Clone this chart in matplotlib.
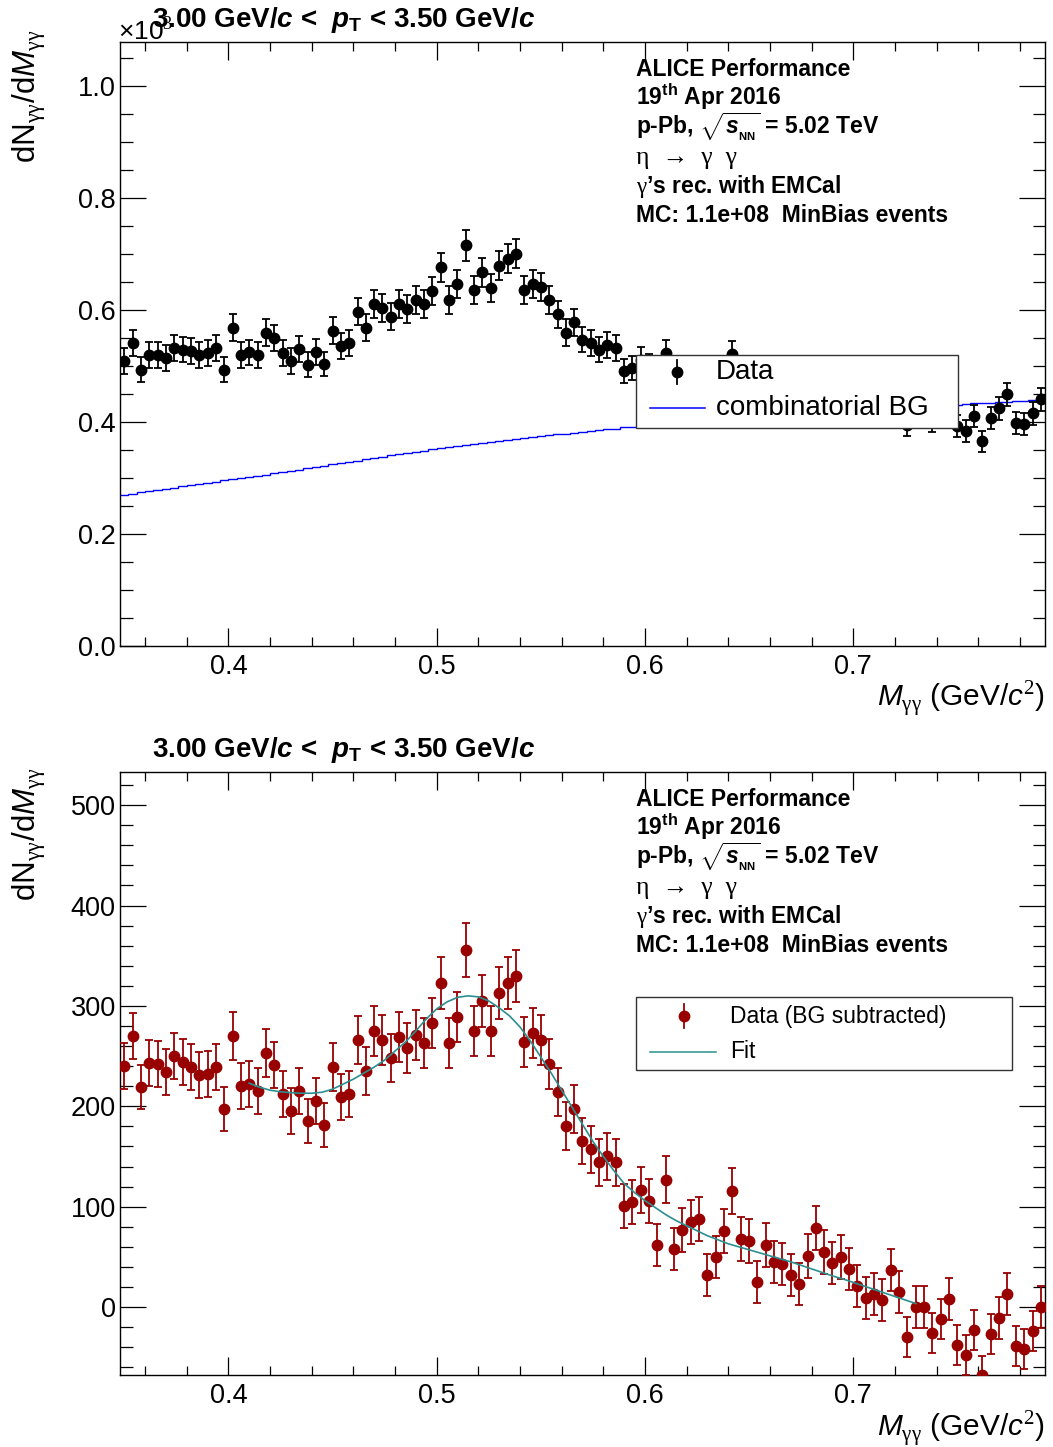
import numpy as np
import matplotlib
matplotlib.use("Agg")
import matplotlib.pyplot as plt
from matplotlib.lines import Line2D
from matplotlib.patches import Rectangle
from matplotlib.ticker import MultipleLocator, FormatStrFormatter

plt.rcParams['font.family'] = ['Liberation Sans', 'DejaVu Sans']
plt.rcParams['mathtext.fontset'] = 'custom'
# upright greek (symbol font look) comes from the serif face
plt.rcParams['mathtext.rm'] = 'Liberation Serif'
plt.rcParams['mathtext.sf'] = 'Liberation Sans'
plt.rcParams['mathtext.it'] = 'Liberation Sans:italic'
plt.rcParams['mathtext.bf'] = 'Liberation Sans:bold'
plt.rcParams['mathtext.bfit'] = 'Liberation Sans:bold:italic'

# invariant mass bin centres (GeV/c^2), 4 MeV bins
mass = [0.350, 0.354, 0.358, 0.362, 0.366, 0.370, 0.374, 0.378, 0.382, 0.386,
        0.390, 0.394, 0.398, 0.402, 0.406, 0.410, 0.414, 0.418, 0.422, 0.426,
        0.430, 0.434, 0.438, 0.442, 0.446, 0.450, 0.454, 0.458, 0.462, 0.466,
        0.470, 0.474, 0.478, 0.482, 0.486, 0.490, 0.494, 0.498, 0.502, 0.506,
        0.510, 0.514, 0.518, 0.522, 0.526, 0.530, 0.534, 0.538, 0.542, 0.546,
        0.550, 0.554, 0.558, 0.562, 0.566, 0.570, 0.574, 0.578, 0.582, 0.586,
        0.590, 0.594, 0.598, 0.602, 0.606, 0.610, 0.614, 0.618, 0.622, 0.626,
        0.630, 0.634, 0.638, 0.642, 0.646, 0.650, 0.654, 0.658, 0.662, 0.666,
        0.670, 0.674, 0.678, 0.682, 0.686, 0.690, 0.694, 0.698, 0.702, 0.706,
        0.710, 0.714, 0.718, 0.722, 0.726, 0.730, 0.734, 0.738, 0.742, 0.746,
        0.750, 0.754, 0.758, 0.762, 0.766, 0.770, 0.774, 0.778, 0.782, 0.786,
        0.790]
bin_width = 0.004

# same-event pair counts per bin
raw_counts = [509, 541, 493, 519, 520, 514, 532, 529, 526, 520,
              523, 532, 493, 568, 520, 524, 519, 559, 550, 523,
              508, 530, 502, 525, 503, 563, 535, 541, 597, 568,
              610, 603, 588, 611, 602, 617, 611, 634, 676, 618,
              646, 715, 635, 667, 639, 679, 691, 700, 635, 646,
              641, 618, 592, 559, 578, 547, 541, 529, 537, 532,
              491, 496, 510, 500, 457, 523, 455, 475, 485, 489,
              434, 453, 480, 521, 474, 474, 434, 472, 456, 455,
              445, 436, 465, 494, 471, 461, 468, 457, 441, 430,
              435, 430, 461, 439, 395, 426, 427, 402, 417, 438,
              393, 384, 410, 365, 407, 424, 449, 398, 396, 415,
              440]

# scaled mixed-event (combinatorial) background
bg_counts = [269, 271, 274, 276, 278, 280, 282, 285, 287, 289,
             291, 293, 296, 298, 300, 302, 304, 306, 309, 311,
             313, 315, 317, 320, 322, 324, 326, 329, 331, 333,
             335, 337, 340, 342, 344, 346, 348, 351, 353, 355,
             357, 359, 360, 362, 364, 366, 368, 370, 371, 373,
             375, 376, 378, 379, 381, 382, 384, 385, 387, 388,
             390, 391, 393, 394, 395, 396, 397, 398, 400, 401,
             402, 403, 404, 405, 406, 408, 409, 410, 411, 412,
             413, 413, 414, 415, 416, 417, 418, 419, 420, 421,
             422, 423, 424, 424, 425, 426, 427, 428, 429, 430,
             431, 432, 433, 433, 434, 435, 436, 437, 438, 439,
             440]

# background subtracted counts
signal = [240, 270, 219, 243, 242, 234, 250, 244, 239, 231,
          232, 239, 197, 270, 220, 222, 215, 253, 241, 212,
          195, 215, 185, 205, 181, 239, 209, 212, 266, 235,
          275, 266, 248, 269, 258, 271, 263, 283, 323, 263,
          289, 356, 275, 305, 275, 313, 323, 330, 264, 273,
          266, 242, 214, 180, 197, 165, 157, 144, 150, 144,
          101, 105, 117, 106, 62, 127, 58, 77, 85, 88,
          32, 50, 76, 116, 68, 66, 25, 62, 45, 43,
          32, 23, 51, 79, 55, 44, 50, 38, 21, 9,
          13, 7, 37, 15, -30, 0, 0, -26, -12, 8,
          -38, -48, -23, -68, -27, -11, 13, -39, -42, -24,
          0]

# statistical uncertainty per bin
errors = [23, 23, 22, 23, 23, 23, 23, 23, 23, 23,
          23, 23, 22, 24, 23, 23, 23, 24, 23, 23,
          23, 23, 22, 23, 22, 24, 23, 23, 24, 24,
          25, 25, 24, 25, 25, 25, 25, 25, 26, 25,
          25, 27, 25, 26, 25, 26, 26, 26, 25, 25,
          25, 25, 24, 24, 24, 23, 23, 23, 23, 23,
          22, 22, 23, 22, 21, 23, 21, 22, 22, 22,
          21, 21, 22, 23, 22, 22, 21, 22, 21, 21,
          21, 21, 22, 22, 22, 21, 22, 21, 21, 21,
          21, 21, 21, 21, 20, 21, 21, 20, 20, 21,
          20, 20, 20, 19, 20, 21, 21, 20, 20, 20,
          21]

# peak fit evaluated over the fit range
fit_mass = [0.410, 0.415, 0.420, 0.425, 0.430, 0.435, 0.440, 0.445, 0.450, 0.455,
            0.460, 0.465, 0.470, 0.475, 0.480, 0.485, 0.490, 0.495, 0.500, 0.505,
            0.510, 0.515, 0.520, 0.525, 0.530, 0.535, 0.540, 0.545, 0.550, 0.555,
            0.560, 0.565, 0.570, 0.575, 0.580, 0.585, 0.590, 0.595, 0.600, 0.605,
            0.610, 0.615, 0.620, 0.625, 0.630, 0.635, 0.640, 0.645, 0.650, 0.655,
            0.660, 0.665, 0.670, 0.675, 0.680, 0.685, 0.690, 0.695, 0.700, 0.705,
            0.710, 0.715, 0.720, 0.725, 0.730]
fit_values = [223, 219, 216, 214.5, 213.5, 213, 213, 214, 217, 222,
              227, 233, 239, 246, 255, 264, 275, 287, 297, 304,
              308.5, 310, 309, 305, 298, 290, 279, 265, 249, 233,
              216, 199, 182, 165, 150, 136, 123, 114, 106, 99,
              92, 86, 81, 76, 71, 67, 63, 60, 57, 54,
              51, 48, 45, 41.5, 38, 34.5, 31, 28, 24.5, 21,
              17.5, 14, 10.5, 7, 3.5]

pt_title = r"3.00 GeV/$\mathbfit{c}$ <  $\mathbfit{p}_{\mathbf{T}}$ < 3.50 GeV/$\mathbfit{c}$"
# (text, weight, family)
info_lines = [
    ("ALICE Performance", 'bold', None),
    (r"19$^{\mathbf{th}}$ Apr 2016", 'bold', None),
    (r"p-Pb, $\sqrt{\mathbfit{s}_{_{\mathbf{NN}}}}$ = 5.02 TeV", 'bold', None),
    ("η  →  γ  γ", 'normal', ['Liberation Serif', 'DejaVu Serif']),
    (r"$\mathrm{\gamma}$’s rec. with EMCal", 'bold', None),
    ("MC: 1.1e+08  MinBias events", 'bold', None),
]
x_title = r"$M_{\mathrm{\gamma\gamma}}$ (GeV/$c^{2}$)"
y_title = r"dN$_{\mathrm{\gamma\gamma}}$/d$M_{\mathrm{\gamma\gamma}}$"

W, H = 1053, 1447
RED = '#990000'
TEAL = '#2b8f8f'

mass = np.array(mass)
raw_counts = np.array(raw_counts, dtype=float)
bg_counts = np.array(bg_counts, dtype=float)
signal = np.array(signal, dtype=float)
errors = np.array(errors, dtype=float)
edges = np.append(mass - bin_width / 2, mass[-1] + bin_width / 2)


def fxy(x, y):
    # pixel position -> figure fraction (origin top left)
    return x / W, 1 - y / H


def style_axes(ax, ymajor, yminor, yfmt):
    ax.set_xlim(0.348, 0.792)
    ax.xaxis.set_major_locator(MultipleLocator(0.1))
    ax.xaxis.set_minor_locator(MultipleLocator(0.02))
    ax.xaxis.set_major_formatter(FormatStrFormatter('%.1f'))
    ax.yaxis.set_major_locator(MultipleLocator(ymajor))
    ax.yaxis.set_minor_locator(MultipleLocator(yminor))
    ax.yaxis.set_major_formatter(FormatStrFormatter(yfmt))
    ax.tick_params(which='both', direction='in', top=True, right=True,
                   width=0.9, labelsize=19.5)
    ax.tick_params(axis='x', which='major', length=13, pad=6)
    ax.tick_params(axis='x', which='minor', length=6.5)
    ax.tick_params(axis='y', which='major', length=19, pad=3)
    ax.tick_params(axis='y', which='minor', length=9)
    for sp in ax.spines.values():
        sp.set_linewidth(1.0)
    ax.set_xlabel(x_title, fontsize=21.5, loc='right')
    ax.set_ylabel(y_title, fontsize=22.5, loc='top')


def draw_info(y0):
    for i, (txt, weight, family) in enumerate(info_lines):
        kw = {'family': family, 'fontsize': 18.5} if family else {'fontsize': 16.5}
        fig.text(*fxy(636, y0 + i * 29.3), txt, fontweight=weight,
                 va='baseline', ha='left', **kw)


def draw_legend(box, rows, fontsize, text_x):
    x0, y0, w, h = box
    fig.add_artist(Rectangle(fxy(x0, y0 + h), w / W, h / H,
                             transform=fig.transFigure, facecolor='white',
                             edgecolor='#333333', lw=1.0, zorder=5))
    for y, kind, color, label, hx in rows:
        if kind == 'point':
            fig.add_artist(Line2D([hx[0] / W] * 2, [1 - (y - 12) / H, 1 - (y + 12) / H],
                                  transform=fig.transFigure, color=color, lw=1.3, zorder=6))
            fig.add_artist(Line2D([hx[0] / W], [1 - y / H], marker='o', ms=7.5,
                                  color=color, transform=fig.transFigure, zorder=7))
        else:
            fig.add_artist(Line2D([hx[0] / W, hx[1] / W], [1 - y / H] * 2,
                                  transform=fig.transFigure, color=color, lw=1.1, zorder=6))
        fig.text(*fxy(text_x, y), label, fontsize=fontsize, va='center',
                 ha='left', zorder=7)


fig = plt.figure(figsize=(W / 100, H / 100), dpi=100)
ax1 = fig.add_axes([120 / W, 1 - 646 / H, 925 / W, 604 / H])
ax2 = fig.add_axes([120 / W, 1 - 1375 / H, 925 / W, 603 / H])

# upper pad: invariant mass spectrum with combinatorial background (x10^3)
ax1.stairs(bg_counts / 1000, edges, baseline=None, color='#0000ff', lw=1.0, zorder=2)
ax1.errorbar(mass, raw_counts / 1000, yerr=errors / 1000, fmt='o', color='black',
             ms=7.5, elinewidth=1.3, capsize=3, capthick=1.3, zorder=3)
ax1.set_ylim(0, 1.078)
style_axes(ax1, 0.2, 0.05, '%.1f')
ax1.xaxis.set_label_coords(1.0, -0.053)
ax1.yaxis.set_label_coords(-0.078, 1.02)
fig.text(*fxy(118, 40), r"×10$^{3}$", fontsize=19, va='baseline')
fig.text(*fxy(152, 27), pt_title, fontsize=20, fontweight='bold', va='baseline')
draw_info(76)
draw_legend((636, 355, 322, 73),
            [(372, 'point', 'black', 'Data', (677,)),
             (408, 'line', '#0000ff', 'combinatorial BG', (650, 705))],
            20, 716)

# lower pad: background subtracted signal with peak fit
ax2.errorbar(mass, signal, yerr=errors, fmt='o', color=RED, ms=7.5,
             elinewidth=1.3, capsize=3, capthick=1.3, zorder=3)
ax2.plot(fit_mass, fit_values, color=TEAL, lw=1.2, zorder=4)
ax2.set_ylim(-67.7, 533)
style_axes(ax2, 100, 20, '%d')
ax2.xaxis.set_label_coords(1.0, -0.055)
ax2.yaxis.set_label_coords(-0.078, 1.007)
fig.text(*fxy(152, 757), pt_title, fontsize=20, fontweight='bold', va='baseline')
draw_info(806)
draw_legend((636, 997, 376, 73),
            [(1016, 'point', RED, 'Data (BG subtracted)', (684,)),
             (1052, 'line', TEAL, 'Fit', (650, 716))],
            16.5, 730)

fig.savefig("out.png", dpi=100)
